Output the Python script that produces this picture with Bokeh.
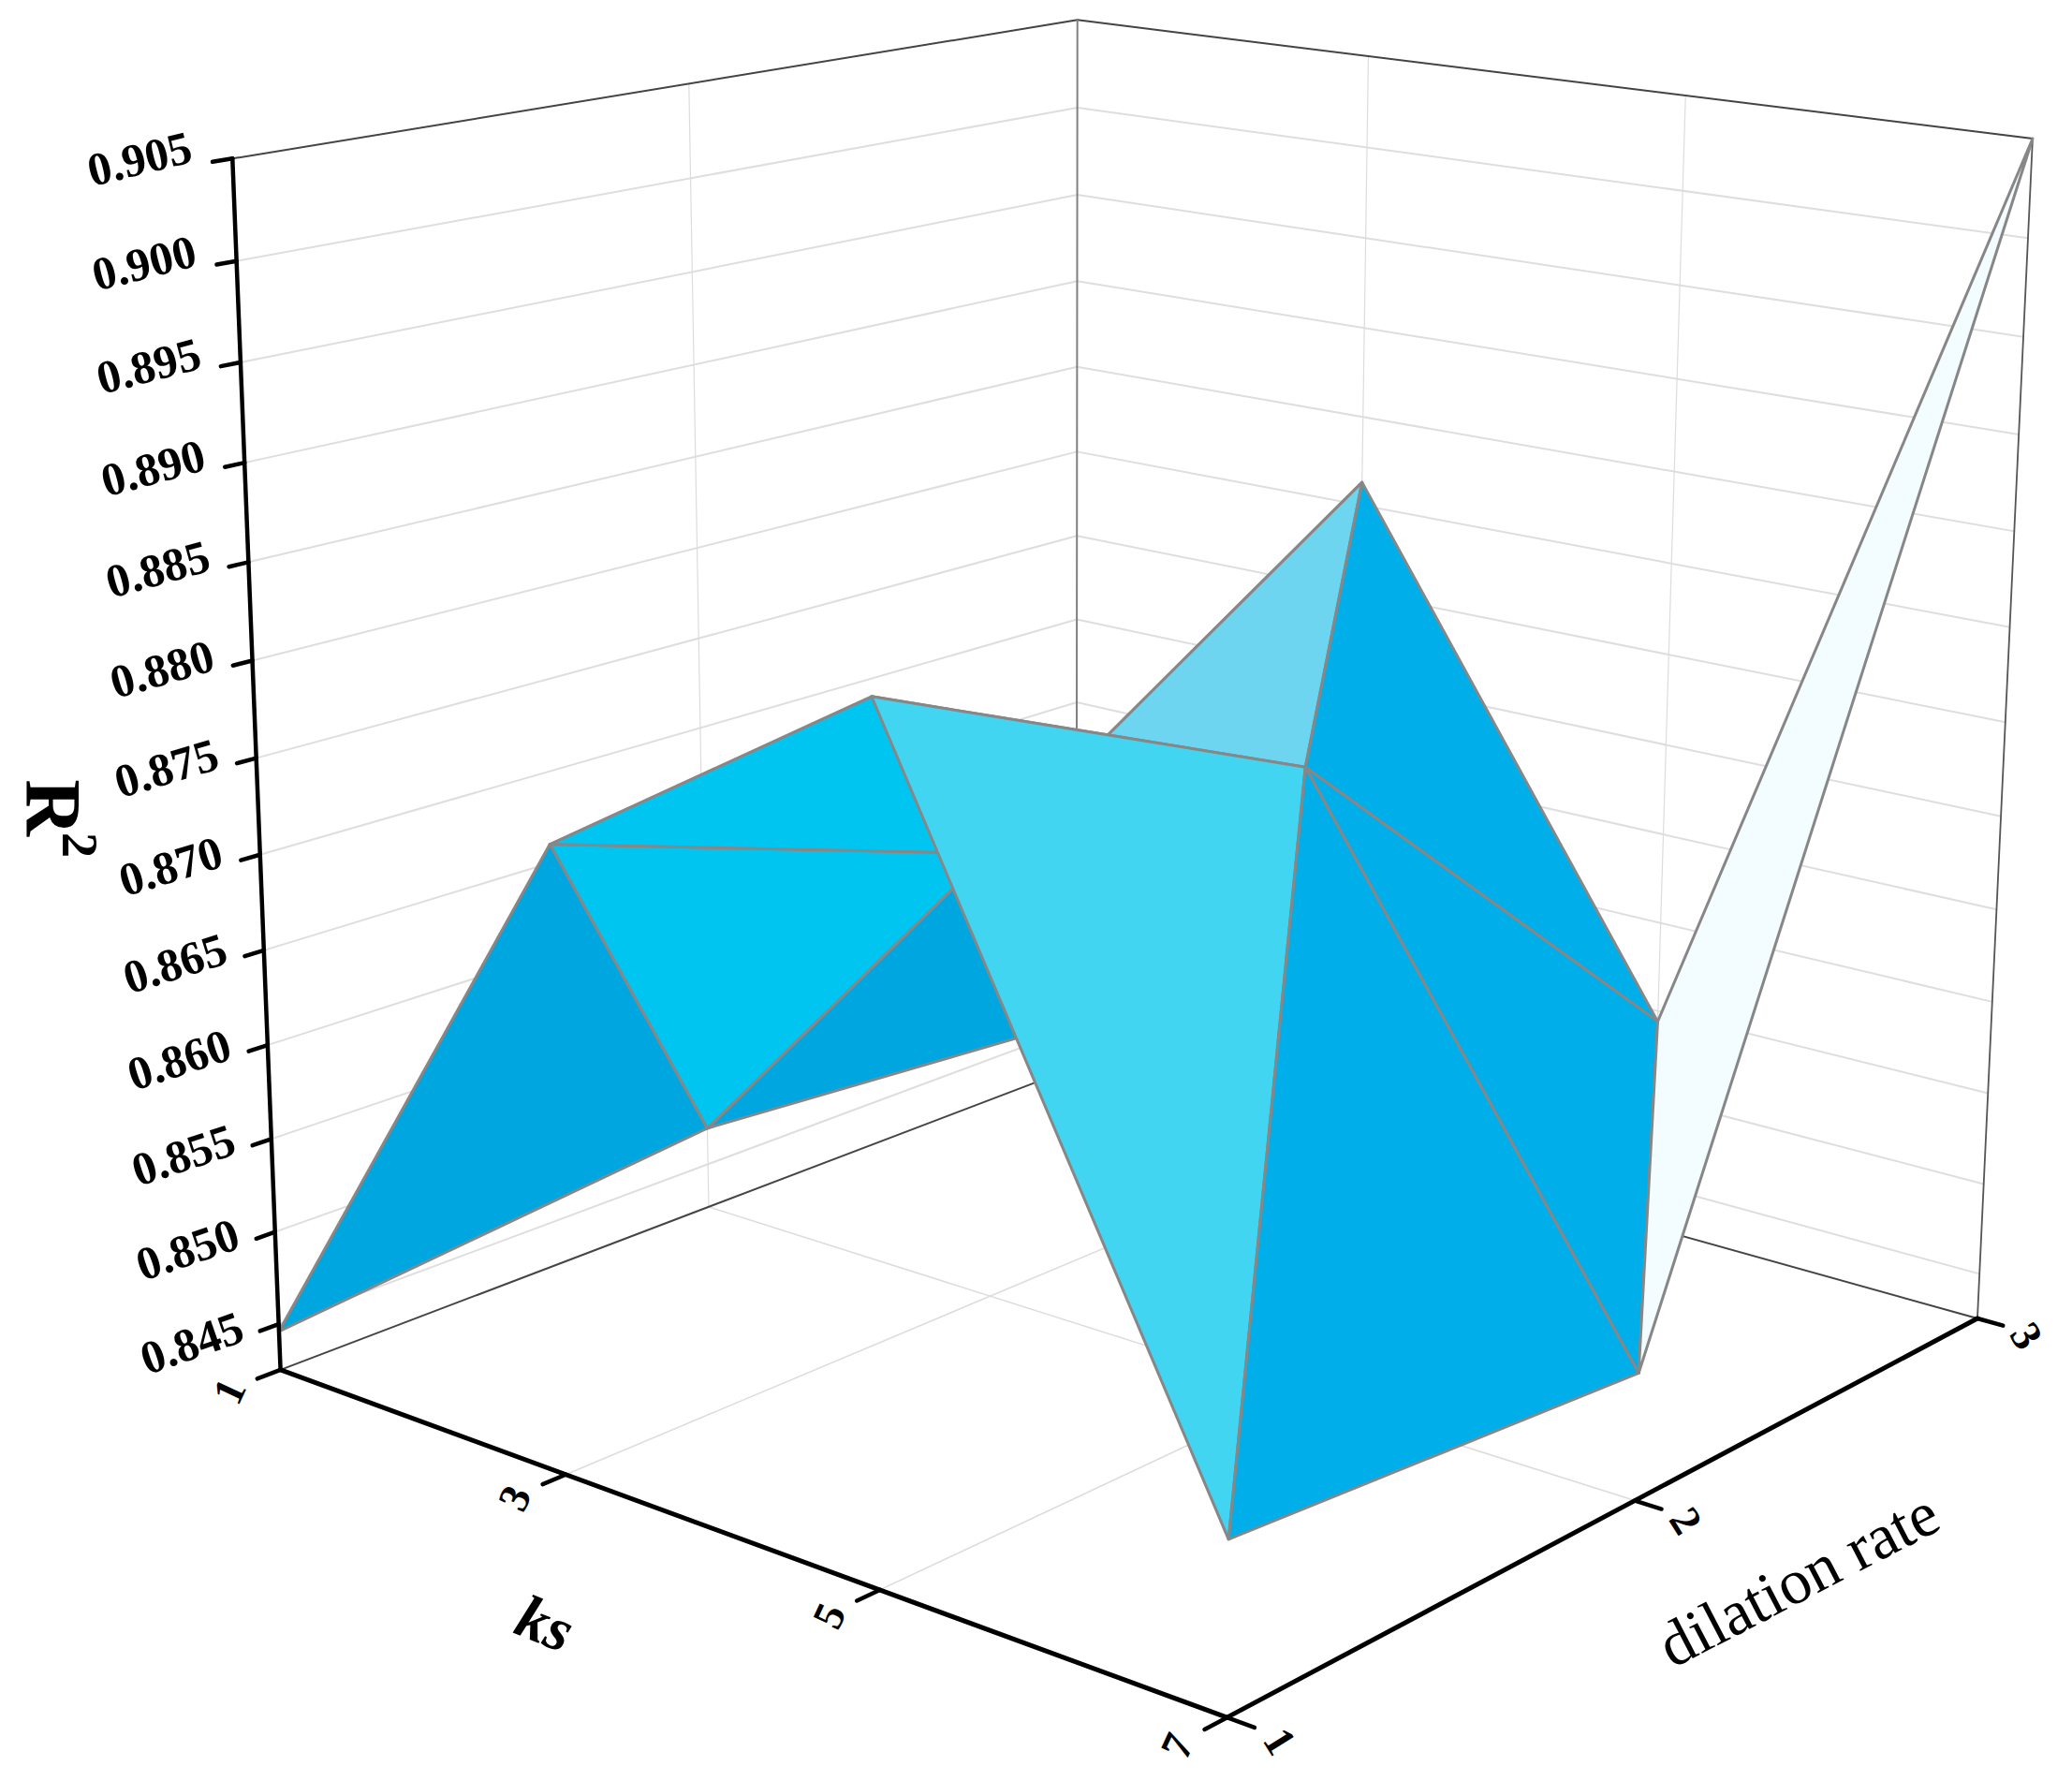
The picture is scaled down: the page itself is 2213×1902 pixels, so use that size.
import math
import numpy as np
from bokeh.plotting import figure
from bokeh.models import Range1d, ColumnDataSource
from bokeh.core.properties import value
from bokeh.embed import file_html
from bokeh.resources import INLINE

# ---- data -------------------------------------------------------------
ks_values = [1, 3, 5, 7]
dilation_values = [1, 2, 3]
r2_dilation_1 = [0.8446, 0.8746, 0.8855, 0.8510]
r2_dilation_2 = [0.8471, 0.8670, 0.8755, 0.8491]
r2_dilation_3 = [0.8454, 0.8813, 0.8544, 0.9050]
z_ticks = [0.845, 0.850, 0.855, 0.860, 0.865, 0.870, 0.875, 0.880, 0.885, 0.890, 0.895, 0.900, 0.905]
ks_ticks = [1, 3, 5, 7]
dilation_ticks = [1, 2, 3]
z_floor = 0.8425
z_ceiling = 0.905

# triangles of the surface, back to front: ((ks, dilation) x 3, colour)
triangles = [
    ((1, 3), (3, 2), (3, 3), "#00AEEA"),
    ((1, 2), (3, 2), (1, 3), "#00A6DF"),
    ((1, 1), (3, 1), (1, 2), "#00A6DF"),
    ((3, 1), (3, 2), (1, 2), "#00C5F1"),
    ((3, 1), (5, 1), (3, 2), "#00C5F1"),
    ((3, 2), (5, 2), (3, 3), "#6DD5F0"),
    ((5, 1), (5, 2), (3, 2), "#00C5F1"),
    ((3, 3), (5, 2), (5, 3), "#00AEEA"),
    ((5, 2), (5, 3), (7, 2), "#00AEEA"),
    ((5, 3), (7, 2), (7, 3), "#F3FDFF"),
    ((5, 1), (5, 2), (7, 1), "#42D5F1"),
    ((5, 2), (7, 1), (7, 2), "#00AEEA"),
]

surface = {}
for d, row in zip(dilation_values, [r2_dilation_1, r2_dilation_2, r2_dilation_3]):
    for k, z in zip(ks_values, row):
        surface[(k, d)] = z

# ---- perspective camera ------------------------------------------------
CAMERA = np.array([
    [833.2600878975725, 1041.6985449085857, -63.25101228566035, 297.15858209234017],
    [120.21676974710745, -136.2717564151285, -1254.1489684022567, 1413.5201121862447],
    [-0.13739464442880944, 0.1650316869100834, -0.05601538141849005, 1.0],
])


def project(ks, d, z):
    u = (ks - 1) / 6
    v = (d - 1) / 2
    w = (z - 0.845) / 0.06
    q = CAMERA @ np.array([u, v, w, 1.0])
    return float(q[0] / q[2]), float(q[1] / q[2])


def segment(a, b):
    pa, pb = project(*a), project(*b)
    return [pa[0], pb[0]], [pa[1], pb[1]]


p = figure(width=2197, height=1900, x_range=Range1d(0, 2197), y_range=Range1d(1900, 0),
           output_backend="svg", toolbar_location=None, min_border=0,
           background_fill_color="white", border_fill_color="white", outline_line_color=None)
p.xaxis.visible = False
p.yaxis.visible = False
p.grid.visible = False


def lines(segments, color, width):
    xs, ys = [], []
    for a, b in segments:
        x, y = segment(a, b)
        xs.append(x)
        ys.append(y)
    p.multi_line(xs, ys, line_color=color, line_width=width, line_cap="round")


# grid on walls and floor
k0, k1 = ks_values[0], ks_values[-1]
d0, d1 = dilation_values[0], dilation_values[-1]
z_grid = [z for z in z_ticks if z < z_ceiling]
lines([((k0, d0, z), (k0, d1, z)) for z in z_grid] +
      [((k0, d1, z), (k1, d1, z)) for z in z_grid], "#DEDEDE", 2)
inner_k = ks_ticks[1:-1]
inner_d = dilation_ticks[1:-1]
lines([((k, d1, z_floor), (k, d1, z_ceiling)) for k in inner_k] +
      [((k0, d, z_floor), (k0, d, z_ceiling)) for d in inner_d], "#DCDCDC", 1.2)
lines([((k, d0, z_floor), (k, d1, z_floor)) for k in inner_k] +
      [((k0, d, z_floor), (k1, d, z_floor)) for d in inner_d], "#DCDCDC", 1.5)

# thin box edges
lines([((k0, d0, z_floor), (k0, d1, z_floor)), ((k0, d1, z_floor), (k1, d1, z_floor))], "#444444", 2)
lines([((k0, d0, z_ceiling), (k0, d1, z_ceiling)), ((k0, d1, z_ceiling), (k1, d1, z_ceiling))], "#444444", 2)
lines([((k0, d1, z_floor), (k0, d1, z_ceiling))], "#808080", 2)
lines([((k1, d1, z_floor), (k1, d1, z_ceiling))], "#555555", 1.8)

# surface
tri_x, tri_y, tri_c = [], [], []
for a, b, c, colour in triangles:
    pts = [project(k, d, surface[(k, d)]) for k, d in (a, b, c)]
    tri_x.append([q[0] for q in pts])
    tri_y.append([q[1] for q in pts])
    tri_c.append(colour)
p.patches("x", "y", fill_color="c", line_color="#878787", line_width=3, line_join="round",
          source=ColumnDataSource(dict(x=tri_x, y=tri_y, c=tri_c)))

# black axes and ticks
lines([((k0, d0, z_floor), (k0, d0, z_ceiling))], "#000000", 4.5)
lines([((k0, d0, z_floor), (k1, d0, z_floor)), ((k1, d0, z_floor), (k1, d1, z_floor))], "#000000", 5)
lines([((k0, d0, z), (k0, d0 - 0.04, z)) for z in z_ticks], "#000000", 4.5)
lines([((k, d0, z_floor), (k, d0 - 0.05, z_floor)) for k in ks_ticks], "#000000", 4.5)
lines([((k1, d, z_floor), (k1 + 0.15, d, z_floor)) for d in dilation_ticks], "#000000", 4.5)

FONT = value("Liberation Serif")


def label(x, y, text, angle, size, style="bold"):
    p.text([x], [y], text=[text], angle=[angle], text_font=FONT, text_font_size=value(f"{size}px"),
           text_font_style=style, text_align="center", text_baseline="middle", text_color="#000000")


for z in z_ticks:
    x0, y0 = project(k0, d0, z)
    x1, y1 = project(k0, d1, z)
    wall = math.atan2(y0 - y1, x1 - x0)
    lx, ly = project(k0, d0 - 0.183, z + 0.0007)
    label(lx, ly, f"{z:.3f}", wall * 0.5 + math.radians(9), 50)
for k in ks_ticks:
    lx, ly = project(k, d0 - 0.11, z_floor - 0.0001)
    label(lx, ly, str(k), math.radians(65), 46)
for d in dilation_ticks:
    lx, ly = project(k1 + 6 * 0.048, d, z_floor - 0.0002)
    label(lx, ly, str(d), math.radians(-58), 46)

label(582, 1733, "ks", math.radians(-22), 66, "bold italic")
label(1920, 1686, "dilation rate", math.radians(27.5), 68, "normal")
label(56, 862, "R", math.radians(-90), 84)
label(84, 902, "2", math.radians(-90), 54)

open("out.html", "w").write(file_html(p, INLINE))
